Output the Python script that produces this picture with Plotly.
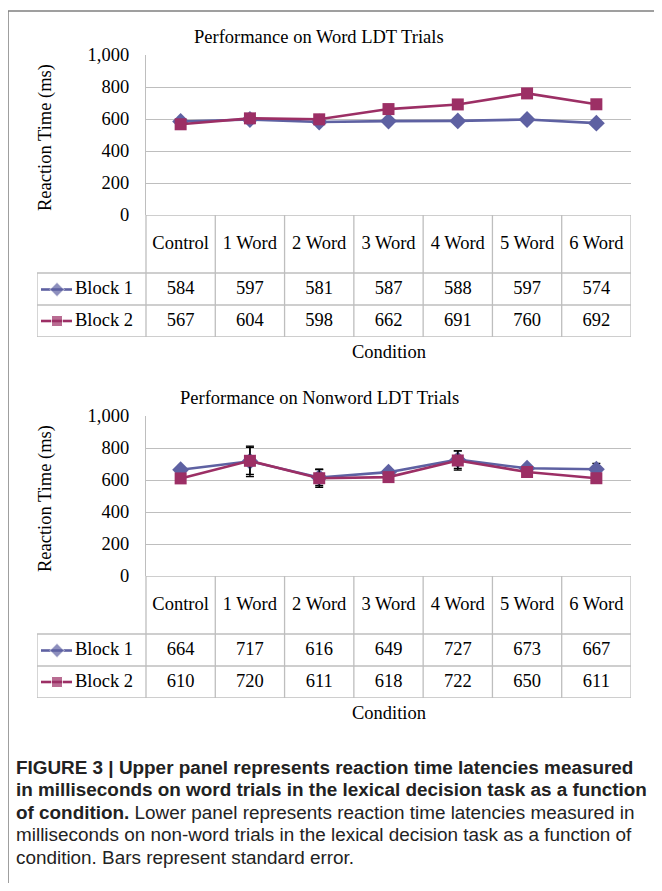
import plotly.graph_objects as go

# ---------------- data ----------------
categories = ["Control", "1 Word", "2 Word", "3 Word", "4 Word", "5 Word", "6 Word"]
series_names = ["Block 1", "Block 2"]
word_block1 = [584, 597, 581, 587, 588, 597, 574]
word_block2 = [567, 604, 598, 662, 691, 760, 692]
nonword_block1 = [664, 717, 616, 649, 727, 673, 667]
nonword_block2 = [610, 720, 611, 618, 722, 650, 611]
nonword_err1 = [12, 95, 50, 12, 55, 12, 37]
nonword_err2 = [12, 85, 56, 12, 60, 12, 12]
y_ticks = [0, 200, 400, 600, 800, 1000]
titles = ["Performance on Word LDT Trials", "Performance on Nonword LDT Trials"]
x_title = "Condition"
y_title = "Reaction Time (ms)"
caption_lines = [
    "<b>FIGURE 3 | Upper panel represents reaction time latencies measured</b>",
    "<b>in milliseconds on word trials in the lexical decision task as a function</b>",
    "<b>of condition.</b> Lower panel represents reaction time latencies measured in",
    "milliseconds on non-word trials in the lexical decision task as a function of",
    "condition. Bars represent standard error.",
]

# ---------------- styling / layout ----------------
OFF = 8                      # page body margin
W, H = 662 - 2 * OFF, 891 - 2 * OFF
C1 = "#5E61A2"
C2 = "#9C2F65"
GRID = "#BEBEBE"
SERIF = "Liberation Serif, Times New Roman, serif"
FS = 18.5

def px(p):
    return (p - OFF) / W

def py(p):
    return 1 - (p - OFF) / H

PL, PR = 146, 631          # plot area left / right (page pixels)
TL = 37                    # table left edge (page pixels)
unit = (PR - PL) / len(categories)
def xu(p):                 # page pixel -> table x units
    return -0.5 + (p - PL) / unit
t_left = xu(TL)
row_bounds = [0, 58, 90, 122]
row_centers = [29, 74.5, 106]

fig = go.Figure()
layout = dict(
    width=W, height=H, margin=dict(l=0, r=0, t=0, b=0, autoexpand=False),
    paper_bgcolor="white", plot_bgcolor="rgba(0,0,0,0)", template="none",
    showlegend=False, font=dict(family=SERIF, size=FS, color="black"),
)
shapes = []
annotations = []

panels = [
    dict(top=55, b1=word_block1, b2=word_block2, e1=None, e2=None),
    dict(top=416, b1=nonword_block1, b2=nonword_block2, e1=nonword_err1, e2=nonword_err2),
]

xs = list(range(len(categories)))
for i, p in enumerate(panels):
    top = p["top"]
    bottom = top + 160
    tbot = bottom + row_bounds[-1]
    n = 2 * i
    xa, ya = f"x{n+1 if n else ''}", f"y{n+1 if n else ''}"
    xt, yt = f"x{n+2}", f"y{n+2}"
    xa_key, ya_key = f"xaxis{n+1 if n else ''}", f"yaxis{n+1 if n else ''}"
    xt_key, yt_key = f"xaxis{n+2}", f"yaxis{n+2}"

    layout[xa_key] = dict(domain=[px(PL), px(PR)], range=[-0.5, len(categories) - 0.5],
                          visible=False, anchor=ya, automargin=False)
    layout[ya_key] = dict(domain=[py(bottom), py(top)], range=[0, 1000], anchor=xa,
                          tickvals=y_ticks, tickformat=",", showgrid=True, gridcolor=GRID,
                          gridwidth=1.3, showline=True, linecolor=GRID, linewidth=1.3,
                          zeroline=False, ticks="", ticklabelstandoff=12, automargin=False,
                          tickfont=dict(family=SERIF, size=FS, color="black"))
    layout[xt_key] = dict(domain=[px(TL), px(PR)], range=[t_left, len(categories) - 0.5],
                          visible=False, anchor=yt, automargin=False)
    layout[yt_key] = dict(domain=[py(tbot), py(bottom)], range=[row_bounds[-1], row_bounds[0]],
                          visible=False, anchor=xt, automargin=False)

    err1 = dict(type="data", array=p["e1"], color="black", thickness=1.4, width=4) if p["e1"] else None
    err2 = dict(type="data", array=p["e2"], color="black", thickness=1.4, width=4) if p["e2"] else None
    fig.add_trace(go.Scatter(x=xs, y=p["b1"], mode="lines+markers", xaxis=xa, yaxis=ya,
                             line=dict(color=C1, width=2.6),
                             marker=dict(symbol="diamond", size=13, color=C1),
                             error_y=err1, cliponaxis=False))
    fig.add_trace(go.Scatter(x=xs, y=p["b2"], mode="lines+markers", xaxis=xa, yaxis=ya,
                             line=dict(color=C2, width=2.6),
                             marker=dict(symbol="square", size=12, color=C2),
                             error_y=err2, cliponaxis=False))

    fig.add_trace(go.Scatter(x=xs, y=[row_centers[0]] * len(xs), text=categories, mode="text",
                             xaxis=xt, yaxis=yt, textposition="middle center",
                             textfont=dict(family=SERIF, size=FS, color="black")))
    for r, vals in enumerate([p["b1"], p["b2"]]):
        fig.add_trace(go.Scatter(x=xs, y=[row_centers[r + 1]] * len(xs), text=[str(v) for v in vals],
                                 mode="text", xaxis=xt, yaxis=yt, textposition="middle center",
                                 textfont=dict(family=SERIF, size=FS, color="black")))
    for r, (name, col, sym) in enumerate([(series_names[0], C1, "diamond"),
                                          (series_names[1], C2, "square")]):
        yy = row_centers[r + 1]
        fig.add_trace(go.Scatter(x=[xu(41), xu(57), xu(72)], y=[yy, yy, yy], mode="lines+markers",
                                 xaxis=xt, yaxis=yt, line=dict(color=col, width=2.6),
                                 marker=dict(symbol=sym, size=[0, 11, 0], color=col)))
        fig.add_trace(go.Scatter(x=[xu(75)], y=[yy], text=[name], mode="text",
                                 xaxis=xt, yaxis=yt, textposition="middle right",
                                 textfont=dict(family=SERIF, size=FS, color="black")))

    lw = 1.3
    shapes.append(dict(type="line", xref=xt, yref=yt, x0=-0.5, x1=len(categories) - 0.5,
                       y0=row_bounds[0], y1=row_bounds[0], line=dict(color=GRID, width=lw)))
    for rb in row_bounds[1:]:
        shapes.append(dict(type="line", xref=xt, yref=yt, x0=t_left, x1=len(categories) - 0.5,
                           y0=rb, y1=rb, line=dict(color=GRID, width=lw)))
    for k in range(len(categories) + 1):
        shapes.append(dict(type="line", xref=xt, yref=yt, x0=k - 0.5, x1=k - 0.5,
                           y0=row_bounds[0], y1=row_bounds[-1], line=dict(color=GRID, width=lw)))
    shapes.append(dict(type="line", xref=xt, yref=yt, x0=t_left, x1=t_left,
                       y0=row_bounds[1], y1=row_bounds[-1], line=dict(color=GRID, width=lw)))

    annotations.append(dict(text=titles[i], x=px(319), y=py(top - 18), xref="paper", yref="paper",
                            showarrow=False, xanchor="center", yanchor="middle",
                            font=dict(family=SERIF, size=FS, color="black")))
    annotations.append(dict(text=x_title, x=px(389), y=py(tbot + 15), xref="paper", yref="paper",
                            showarrow=False, xanchor="center", yanchor="middle",
                            font=dict(family=SERIF, size=FS, color="black")))
    annotations.append(dict(text=y_title, x=px(45), y=py(top + 83), xref="paper", yref="paper",
                            showarrow=False, xanchor="center", yanchor="middle", textangle=-90,
                            font=dict(family=SERIF, size=FS, color="black")))

cap_y = [767, 789.5, 812, 834.5, 857]
for txt, yy in zip(caption_lines, cap_y):
    annotations.append(dict(text=txt, x=px(14), y=py(yy), xref="paper", yref="paper",
                            showarrow=False, xanchor="left", yanchor="middle",
                            font=dict(family="Liberation Sans Narrow, Arial Narrow, Liberation Sans, sans-serif",
                                      size=18.9, color="#222222")))

shapes.append(dict(type="rect", xref="paper", yref="paper", x0=px(8), x1=px(720),
                   y0=py(950), y1=py(11), line=dict(color="#808080", width=1.5)))

layout["shapes"] = shapes
layout["annotations"] = annotations
fig.update_layout(**layout)
fig.write_html("out.html")
